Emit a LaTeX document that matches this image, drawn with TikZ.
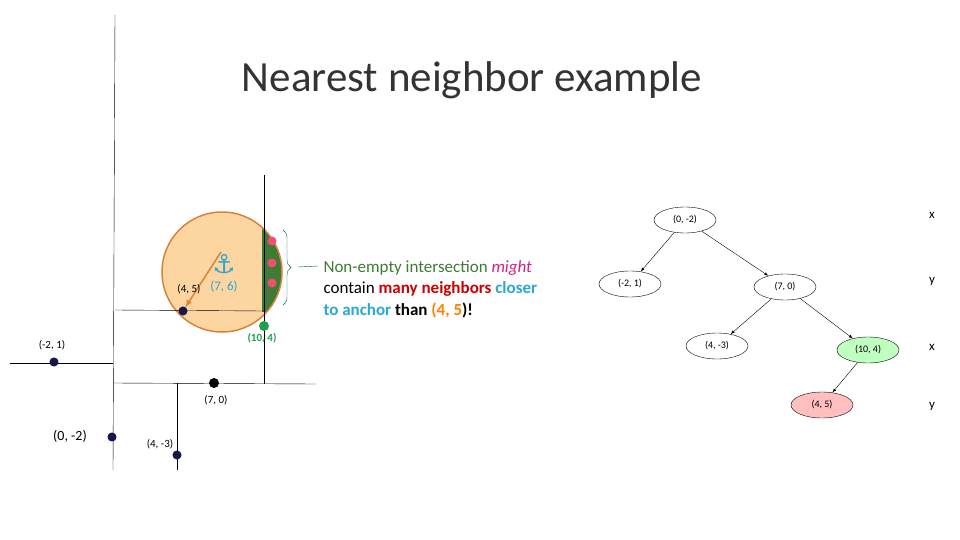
\documentclass[tikz,border=0pt]{standalone}
\usepackage{fontspec}
\setmainfont{Carlito}
\newfontfamily\symf{DejaVu Sans}
\usetikzlibrary{decorations.pathreplacing,shapes.geometric}
\definecolor{dotc}{HTML}{1A1A2E}
\definecolor{orf}{HTML}{FCD5A0}
\definecolor{ord}{HTML}{D8823C}
\definecolor{grn}{HTML}{3E7B35}
\definecolor{pink}{HTML}{F0506E}
\definecolor{gtxt}{HTML}{1FA050}
\definecolor{cyanb}{HTML}{2AA7D6}
\begin{document}
\begin{tikzpicture}[x=1pt,y=-1pt,
  pt/.style={circle,fill=dotc,draw=dotc!60!blue,line width=1pt,inner sep=0pt,minimum size=8pt},
  lab/.style={font=\fontsize{11}{13}\selectfont},
  tn/.style={ellipse,draw,minimum width=62pt,minimum height=26pt,inner sep=0pt,font=\fontsize{10}{12}\selectfont},
  ax/.style={font=\fontsize{13}{15}\selectfont}]
\useasboundingbox (0,0) rectangle (960,540);
\node[text=black!80] (title) at (472,80) {\fontsize{43}{48}\selectfont Nearest neighbor example};
% circle
\fill[orf] (222,272) circle (60);
\begin{scope}
\clip (262,200) rectangle (300,311);
\fill[grn] (222,272) circle (60);
\end{scope}
\draw[ord,line width=1.5pt] (222,272) circle (60);
% lines
\draw (115,15) -- (113,470);
\draw (10,363) -- (113,363);
\draw (113,383) -- (316,384);
\draw (264,175) -- (264,384);
\draw (115,310) -- (264,311);
\draw (177,383) -- (177,470);
\foreach \p/\y in {a/241,b/263,c/283} \node[circle,fill=pink,inner sep=0pt,minimum size=9pt] (\p) at (272,\y) {};
\node[pt] (p45) at (183,311) {};
\node[pt] (pm21) at (54,362) {};
\node[circle,fill=black,inner sep=0pt,minimum size=10pt] (p70) at (214,383) {};
\node[pt] (p0m2) at (112,437) {};
\node[pt] (p4m3) at (177,455) {};
\node[circle,fill=gtxt,inner sep=0pt,minimum size=10pt] (p104) at (264,326) {};
\coordinate (anc) at (221,252);
\node[text=cyanb,font=\symf\fontsize{26}{26}\selectfont] (anchor) at (224,264) {⚓};
\draw[ord,line width=1.5pt,-latex] (anc) -- (p45);
\node[lab] at (189,289) {(4, 5)};
\node[text=cyanb,font=\fontsize{13}{15}\selectfont] at (224,287) {(7, 6)};
\node[text=gtxt,font=\bfseries\fontsize{11}{13}\selectfont] at (262,338) {(10, 4)};
\node[lab] at (52,345) {(-2, 1)};
\node[lab] at (216,400) {(7, 0)};
\node[font=\fontsize{14}{16}\selectfont] at (70,436) {(0, -2)};
\node[lab] at (160,444) {(4, -3)};
\draw[teal!80!green!60!black,decorate,decoration={brace,amplitude=8pt}] (283,230) -- (283,305);
\draw[teal!80!green!60!black] (298,267) -- (318,266);
\node[anchor=west,align=left,font=\fontsize{17}{21.5}\selectfont] (txt) at (320,289) {\textcolor{grn}{Non-empty intersection} \textcolor{magenta!70!violet}{\itshape might}\\
contain \textcolor{red!80!black}{\bfseries many neighbors} \textcolor{cyanb}{\bfseries closer}\\
\textcolor{cyanb}{\bfseries to anchor} \textbf{than} \textcolor{orange}{\bfseries (4, 5}\textbf{)!}};
% tree
\node[tn] (t0) at (685,220) {(0, -2)};
\node[tn] (t1) at (630,284) {(-2, 1)};
\node[tn] (t2) at (785,287) {(7, 0)};
\node[tn] (t3) at (717,346) {(4, -3)};
\node[tn,fill=green!25] (t4) at (868,350) {(10, 4)};
\node[tn,fill=red!25] (t5) at (822,405) {(4, 5)};
\draw[-latex] (t0) -- (t1);
\draw[-latex] (t0) -- (t2);
\draw[-latex] (t2) -- (t3);
\draw[-latex] (t2) -- (t4);
\draw[-latex] (t4) -- (t5);
\node[ax] at (932,215) {x};
\node[ax] at (932,281) {y};
\node[ax] at (932,347) {x};
\node[ax] at (932,406) {y};
\end{tikzpicture}
\end{document}
